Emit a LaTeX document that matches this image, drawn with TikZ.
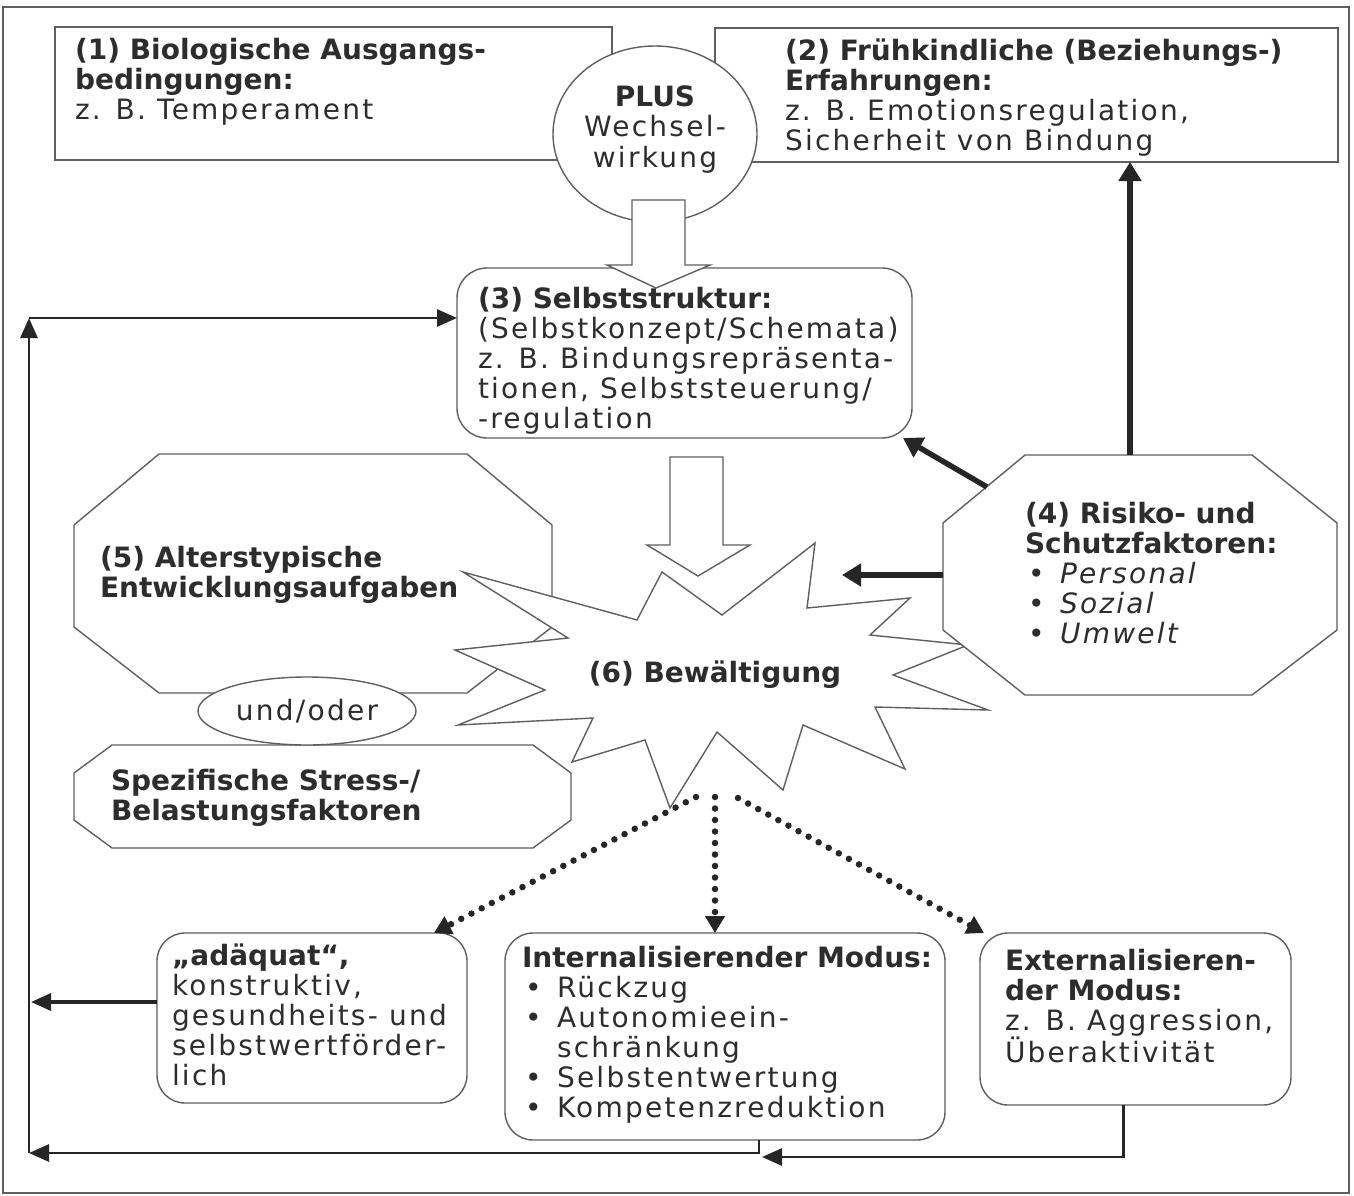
\documentclass[tikz,border=0pt]{standalone}
\usepackage{fontspec}
\setmainfont{DejaVu Sans}
\newfontfamily\rgf{DejaVu Sans}[LetterSpace=8]
\usetikzlibrary{arrows.meta,shapes.geometric,calc}
\definecolor{lc}{RGB}{95,95,95}
\definecolor{tc}{RGB}{45,45,45}
\definecolor{ac}{RGB}{38,38,38}
\newcommand\mystrut{\rule{0pt}{22pt}}
\newcommand\bul{\makebox[35pt][l]{\hspace{3pt}•}}
\begin{document}
\begin{tikzpicture}[x=1pt,y=-1pt,
 shp/.style={draw=lc,line width=1.4pt,fill=white,inner sep=0pt,outer sep=0pt},
 inv/.style={inner sep=0pt,outer sep=0pt},
 txt/.style={inner sep=0pt,outer sep=0pt,text=tc,align=left,anchor=north west,font=\fontsize{28}{30}\selectfont},
 ctxt/.style={txt,align=center,anchor=north},
 btxt/.style={inner sep=0pt,outer sep=0pt,text=tc,anchor=base,font=\fontsize{28}{30}\selectfont},
 conn/.style={draw=ac,line width=2.8pt,-{Triangle[length=20pt,width=17pt]}},
 bigarr/.style={draw=ac,line width=5.5pt,-{Triangle[length=19pt,width=22pt]}},
 dotarr/.style={draw=ac,line width=6.5pt,line cap=round,dash pattern=on 0pt off 11.5pt,-{Triangle[length=17pt,width=19pt]}},
 hollow/.style={draw=lc,line width=1.4pt,fill=white}
]
\fill[white] (0,0) rectangle (1354,1196);
\useasboundingbox (0,0) rectangle (1354,1196);
\draw[draw=lc,line width=2pt] (3,7) rectangle (1349,1193);

% top boxes
\node[shp,minimum width=557pt,minimum height=133pt] (b1) at (333.5,93.5) {};
\node[shp,minimum width=623pt,minimum height=134pt] (b2) at (1026.5,95) {};
\node[shp,rounded corners=30pt,minimum width=455pt,minimum height=170pt] (b3) at (684.5,353) {};
\node[shp,ellipse,minimum width=204pt,minimum height=176pt] (plus) at (655,134) {};
\draw[hollow] (632,200) -- (685,200) -- (685,265) -- (710,265) -- (656,288) -- (607,265) -- (632,265) -- cycle;

% left octagons
\node[inv,minimum width=478pt,minimum height=239pt] (o5) at (313,573.5) {};
\draw[shp] (159,454) -- (467,454) -- (552,525) -- (552,627) -- (467,693) -- (159,693) -- (74,627) -- (74,525) -- cycle;
\node[inv,minimum width=497pt,minimum height=103pt] (sp) at (322.5,796.5) {};
\draw[shp] (112,745) -- (533,745) -- (571,773) -- (571,820) -- (533,848) -- (112,848) -- (74,820) -- (74,773) -- cycle;
\node[shp,ellipse,minimum width=218pt,minimum height=68pt] (uo) at (307,711) {};

% arrow into star
\draw[hollow] (670,457) -- (723,457) -- (723,545) -- (750,545) -- (698,576) -- (647,545) -- (670,545) -- cycle;

% star
\coordinate (star) at (715,672);
\draw[shp] (463,572) -- (637,620) -- (662,572) -- (722,615) -- (815,543) -- (807,608) -- (910,598) -- (870,635) -- (968,645) -- (893,675) -- (988,710) -- (875,707) -- (905,769) -- (803,725) -- (783,790) -- (717,732) -- (670,808) -- (645,740) -- (572,762) -- (593,718) -- (458,725) -- (545,690) -- (455,650) -- (568,638) -- cycle;

% right octagon
\node[inv,minimum width=394pt,minimum height=240pt] (o4) at (1140,575) {};
\draw[shp] (1025,455) -- (1252,455) -- (1337,523) -- (1337,630) -- (1252,695) -- (1025,695) -- (943,630) -- (943,523) -- cycle;

% bottom boxes
\node[shp,rounded corners=28pt,minimum width=310pt,minimum height=170pt] (adq) at (312,1018) {};
\node[shp,rounded corners=28pt,minimum width=440pt,minimum height=207pt] (int) at (725,1036.5) {};
\node[shp,rounded corners=28pt,minimum width=311pt,minimum height=172pt] (ext) at (1135.5,1019) {};

% feedback connectors
\coordinate (cTL) at (29,318);
\coordinate (cBL) at (29,1153);
\coordinate (jI) at (762,1157);
\coordinate (aL) at (31,1002);
\draw[conn] ($(ext.south)+(-12,0)$) |- (jI);
\draw[conn] ($(int.south)+(34,0)$) |- (cBL);
\draw[conn] (cBL) -- (cTL);
\draw[conn] (cTL) -- (cTL -| b3.west);
\draw[conn,line width=3.5pt] (adq.west |- aL) -- (aL);

% thick arrows from (4)
\coordinate (a4) at (1130,455);
\coordinate (o4ul) at (987,487);
\coordinate (t3) at (903,438);
\coordinate (t6) at (842,575);
\draw[bigarr] (a4) -- (a4 |- b2.south);
\draw[bigarr] (o4ul) -- (t3);
\draw[bigarr] (o4.west) -- (t6);

% dotted arrows
\coordinate (s1) at (696,797);
\coordinate (s2) at (715,797);
\coordinate (s3) at (738,798);
\draw[dotarr] (s1) -- ($(adq.north east)+(-33,0)$);
\draw[dotarr] (s2) -- (s2 |- int.north);
\draw[dotarr] (s3) -- ($(ext.north west)+(4,0)$);

% texts
\node[txt] (t1) at (75,38) {\mystrut{\bfseries (1) Biologische Ausgangs-}\\{\bfseries bedingungen:}\\{\rgf z. B. Temperament}};
\node[txt] (t2) at (785,38) {\mystrut{\bfseries (2) Frühkindliche (Beziehungs-)}\\{\bfseries Erfahrungen:}\\{\rgf z. B. Emotionsregulation,}\\{\rgf Sicherheit von Bindung}};
\node[ctxt] (tp) at (655,85) {\mystrut{\bfseries PLUS}\\{\rgf Wechsel-}\\{\rgf wirkung}};
\node[txt] (t3t) at (478,286) {\mystrut{\bfseries (3) Selbststruktur:}\\{\rgf (Selbstkonzept/Schemata)}\\{\rgf z. B. Bindungsrepräsenta-}\\{\rgf tionen, Selbststeuerung/}\\{\rgf -regulation}};
\node[txt] (t5) at (100,545) {\mystrut{\bfseries (5) Alterstypische}\\{\bfseries Entwicklungsaufgaben}};
\node[txt] (tsp) at (111,768) {\mystrut{\bfseries Spezifische Stress-/}\\{\bfseries Belastungsfaktoren}};
\node[btxt] (tuo) at (307,720) {\rgf und/oder};
\node[btxt] (t6t) at (715,682) {\bfseries (6) Bewältigung};
\node[txt] (t4) at (1025,501) {\mystrut{\bfseries (4) Risiko- und}\\{\bfseries Schutzfaktoren:}\\{\rgf\bul{\itshape Personal}}\\{\rgf\bul{\itshape Sozial}}\\{\rgf\bul{\itshape Umwelt}}};
\node[txt] (tadq) at (172,943) {\mystrut{\bfseries „adäquat“,}\\{\rgf konstruktiv,}\\{\rgf gesundheits- und}\\{\rgf selbstwertförder-}\\{\rgf lich}};
\node[txt] (tint) at (522,945) {\mystrut{\bfseries Internalisierender Modus:}\\{\rgf\bul Rückzug}\\{\rgf\bul Autonomieein-}\\{\rgf\makebox[35pt]{}schränkung}\\{\rgf\bul Selbstentwertung}\\{\rgf\bul Kompetenzreduktion}};
\node[txt] (tex) at (1005,948) {\mystrut{\bfseries Externalisieren-}\\{\bfseries der Modus:}\\{\rgf z. B. Aggression,}\\{\rgf Überaktivität}};
\end{tikzpicture}
\end{document}
